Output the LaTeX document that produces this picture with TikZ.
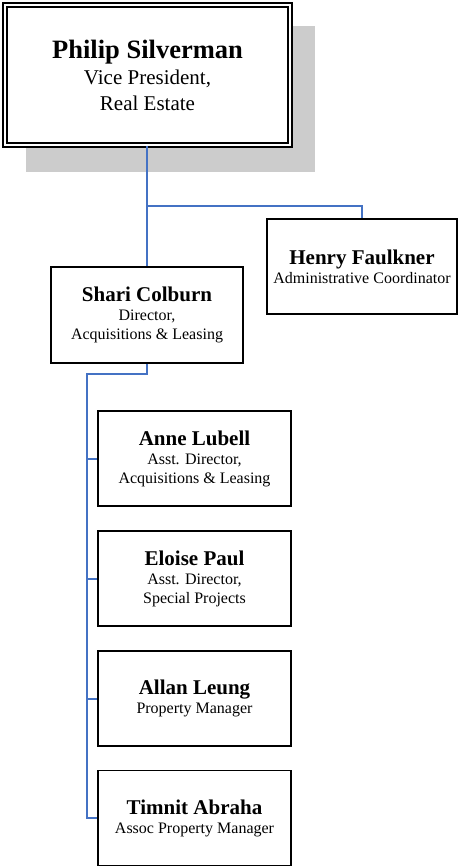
\documentclass[tikz,border=0pt]{standalone}
\usepackage{fontspec}
\setmainfont{Liberation Serif}
\definecolor{linkblue}{RGB}{68,114,196}
\definecolor{shadowgray}{RGB}{204,204,204}

\begin{document}
\begin{tikzpicture}[x=1pt,y=-1pt,
    staff/.style={draw,line width=1.6pt,fill=white,align=center,inner sep=2pt,
      minimum width=193pt,minimum height=95pt,font=\fontsize{16}{19}\selectfont},
    link/.style={draw=linkblue,line width=2pt}]
  \newcommand{\staffname}[1]{{\fontsize{21}{22}\selectfont\bfseries #1}}
  \pgfmathsetmacro{\subx}{194.5}
  \useasboundingbox (0,0) rectangle (458,867);
  % drop shadow behind the head box
  \fill[shadowgray] (26,26) rectangle (315,172);
  \node[draw,double,line width=1.5pt,double distance=2.5pt,fill=white,align=center,
    minimum width=285pt,minimum height=140pt,font=\fontsize{21}{26}\selectfont] (vp) at (147.5,75)
    {{\fontsize{26.5}{28}\selectfont\bfseries Philip Silverman}\\Vice President,\\Real Estate};
  \node[staff,minimum width=190pt] (henry) at (362,266.5)
    {\staffname{Henry Faulkner}\\Administrative Coordinator};
  \node[staff,minimum width=192pt,minimum height=96pt] (shari) at (147,315)
    {\staffname{Shari Colburn}\\Director,\\Acquisitions \& Leasing};
  \node[staff] (anne) at (\subx,458.5) {\staffname{Anne Lubell}\\Asst. Director,\\Acquisitions \& Leasing};
  \node[staff] (eloise) at (\subx,578.5) {\staffname{Eloise Paul}\\Asst. Director,\\Special Projects};
  \node[staff] (allan) at (\subx,698.5) {\staffname{Allan Leung}\\Property Manager};
  \node[staff] (timnit) at (\subx,818) {\staffname{Timnit Abraha}\\Assoc Property Manager};
  % connectors
  \coordinate (split) at (147,206);
  \coordinate (spine) at (87,374);
  \draw[link] (vp.south -| shari.north) -- (shari.north);
  \draw[link] (split) -| (henry.north);
  \draw[link] (shari.south) |- (spine) |- (timnit.west);
  \foreach \n in {anne,eloise,allan}
    \draw[link] (spine |- \n.west) -- (\n.west);
\end{tikzpicture}
\end{document}
